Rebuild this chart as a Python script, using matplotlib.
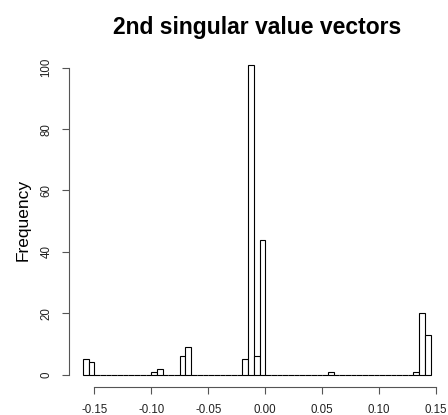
#!/usr/bin/env python3
"""
2nd singular value vectors - R style histogram
"""

import numpy as np
import matplotlib
matplotlib.use('Agg')
import matplotlib.pyplot as plt

plt.rcParams['font.family'] = ['Liberation Sans', 'DejaVu Sans']

# 直方图数据 (bin width 0.005, breaks -0.16 .. 0.145)
bin_width = 0.005
break_start = -0.16
break_end = 0.145
bin_left = [-0.160, -0.155, -0.100, -0.095, -0.075, -0.070,
            -0.020, -0.015, -0.010, -0.005, 0.055, 0.130, 0.135, 0.140]
counts = [5, 4, 1, 2, 6, 9, 5, 101, 6, 44, 1, 1, 20, 13]

x_ticks = [-0.15, -0.10, -0.05, 0.00, 0.05, 0.10, 0.15]
x_labels = ['-0.15', '-0.10', '-0.05', '0.00', '0.05', '0.10', '0.15']
y_ticks = [0, 20, 40, 60, 80, 100]

# 所有 bin（零计数的也画，R 风格的底线）
n_bins = int(round((break_end - break_start) / bin_width))
lefts = break_start + bin_width * np.arange(n_bins)
full = np.zeros(n_bins)
for b, c in zip(bin_left, counts):
    full[int(round((b - break_start) / bin_width))] = c

fig = plt.figure(figsize=(4.48, 4.15), dpi=100)
ax = fig.add_axes([0.154, 0.0672, 0.838, 0.807])

ax.bar(lefts, full, width=bin_width, align='edge', facecolor='white',
       edgecolor='black', linewidth=0.8)

span = break_end - break_start
ax.set_xlim(break_start - 0.04 * span, break_end + 0.04 * span)
ax.set_ylim(-0.04 * 101, 101 * 1.04)

for s in ['top', 'right']:
    ax.spines[s].set_visible(False)
ax.spines['left'].set_bounds(0, 100)
ax.spines['bottom'].set_bounds(-0.15, 0.15)
for s in ['left', 'bottom']:
    ax.spines[s].set_color('#555555')
    ax.spines[s].set_linewidth(0.8)

ax.set_xticks(x_ticks)
ax.set_xticklabels(x_labels)
ax.set_yticks(y_ticks)
ax.set_yticklabels([str(v) for v in y_ticks], rotation=90, va='center')
ax.tick_params(axis='both', direction='out', length=5, width=0.8,
               color='#555555', labelsize=8.3, labelcolor='#222222', pad=7)

ax.set_ylabel('Frequency', fontsize=12.5, labelpad=7)
ax.set_title('2nd singular value vectors', fontsize=16.5, fontweight='bold', pad=13)

plt.savefig('out.png', dpi=100)
